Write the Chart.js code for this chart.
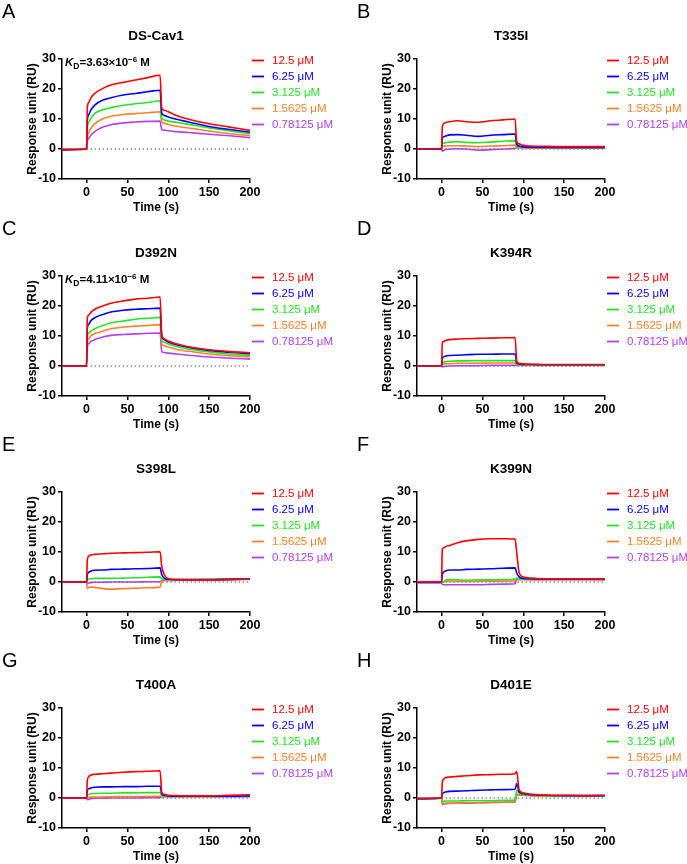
<!DOCTYPE html>
<html>
<head>
<meta charset="utf-8">
<script src="https://cdn.jsdelivr.net/npm/chart.js@4.4.1/dist/chart.umd.min.js"></script>
<style>
  body { margin: 0; background: #fff; width: 687px; height: 864px; overflow: hidden; position: relative; }
  canvas { position: absolute; }
</style>
</head>
<body>
<script>
// sampling times (s) shared by every sensorgram
const TIME = [-30, -1, 0, 1, 3, 5, 10, 20, 30, 45, 60, 75, 90, 92, 95, 100, 110, 125, 150, 175, 200];
const CONCENTRATIONS = ["12.5 μM", "6.25 μM", "3.125 μM", "1.5625 μM", "0.78125 μM"];
const X_TICKS = [0, 50, 100, 150, 200];
const Y_TICKS = [-10, 0, 10, 20, 30];
const ZERO_LINE_X = [0, 200];

const PANEL_LETTERS = ["A", "B", "C", "D", "E", "F", "G", "H"];
const PANEL_TITLES = ["DS-Cav1", "T335I", "D392N", "K394R", "S398L", "K399N", "T400A", "D401E"];
const KD_MANTISSA = ["3.63", null, "4.11", null, null, null, null, null];
const KD_EXPONENT = ["−6", null, "−6", null, null, null, null, null];

// response units, one row per concentration (12.5 -> 0.78125 uM)
const DS_CAV1 = [
  [-0.2, -0.1, 0, 14.0, 15.6, 16.9, 18.5, 20.2, 21.3, 22.2, 23.0, 23.8, 24.6, 13.7, 12.9, 12.4, 11.2, 9.9, 8.4, 7.3, 6.2],
  [-0.2, -0.1, 0, 9.5, 11.5, 12.9, 14.6, 16.3, 17.1, 18.0, 18.5, 19.1, 19.6, 12.0, 11.2, 10.7, 9.9, 9.0, 7.5, 6.5, 5.6],
  [-0.2, -0.1, 0, 7.0, 9.0, 10.1, 11.8, 13.1, 13.8, 14.6, 15.1, 15.5, 16.1, 10.3, 9.7, 9.3, 8.9, 8.2, 7.0, 6.0, 5.1],
  [-0.2, -0.1, 0, 4.0, 5.6, 6.7, 8.4, 10.1, 10.9, 11.5, 11.8, 12.1, 12.4, 9.0, 8.6, 8.2, 7.6, 7.0, 6.0, 5.1, 4.5],
  [-0.2, -0.1, 0, 2.6, 3.6, 4.5, 5.8, 7.3, 8.1, 8.7, 9.0, 9.2, 9.3, 6.4, 6.3, 6.1, 5.8, 5.5, 4.9, 4.4, 3.8]
];
const T335I = [
  [0, 0, 0, 7.4, 8.5, 8.8, 9.1, 9.4, 9.1, 8.9, 9.4, 9.7, 10.0, 2.4, 1.7, 1.2, 1.0, 0.9, 0.8, 0.8, 0.8],
  [0, 0, 0, 3.6, 4.1, 4.3, 4.7, 4.8, 4.6, 4.2, 4.6, 4.8, 5.0, 1.7, 1.0, 0.7, 0.6, 0.6, 0.5, 0.5, 0.5],
  [0, 0, 0, 1.7, 2.0, 2.1, 2.3, 2.4, 2.2, 2.1, 2.3, 2.6, 2.8, 1.0, 0.7, 0.6, 0.5, 0.5, 0.5, 0.5, 0.5],
  [0, 0, 0, 0.8, 0.9, 1.0, 1.1, 1.1, 1.0, 0.8, 1.0, 1.1, 1.3, 0.6, 0.5, 0.5, 0.5, 0.4, 0.4, 0.4, 0.4],
  [0, 0, 0, -0.7, -0.4, -0.2, 0.0, 0.1, 0.0, -0.4, -0.2, 0.0, 0.2, 0.4, 0.4, 0.4, 0.3, 0.3, 0.3, 0.3, 0.3]
];
const D392N = [
  [0, 0, 0, 16.0, 17.0, 17.8, 18.9, 20.0, 20.9, 21.7, 22.3, 22.6, 23.0, 10.5, 9.1, 8.3, 7.4, 6.4, 5.4, 4.8, 4.4],
  [0, 0, 0, 12.5, 14.0, 15.0, 16.1, 17.2, 18.0, 18.6, 18.9, 19.1, 19.3, 10.0, 8.8, 8.0, 7.1, 6.2, 5.2, 4.6, 4.1],
  [0, 0, 0, 9.8, 11.0, 11.6, 12.4, 13.5, 14.4, 15.0, 15.6, 15.9, 16.2, 8.6, 7.9, 7.3, 6.5, 5.6, 4.7, 4.0, 3.6],
  [0, 0, 0, 8.0, 9.2, 10.0, 10.8, 11.6, 12.4, 13.0, 13.3, 13.5, 13.8, 7.4, 6.8, 6.3, 5.6, 4.9, 4.0, 3.4, 3.1],
  [0, 0, 0, 6.5, 7.5, 8.1, 8.8, 9.7, 10.2, 10.5, 10.7, 10.9, 11.0, 4.8, 4.5, 4.3, 4.0, 3.6, 3.0, 2.6, 2.3]
];
const K394R = [
  [0, 0, 0, 7.7, 8.2, 8.5, 8.8, 9.0, 9.1, 9.2, 9.3, 9.4, 9.5, 1.7, 0.9, 0.7, 0.6, 0.5, 0.5, 0.5, 0.5],
  [0, 0, 0, 2.8, 3.1, 3.3, 3.5, 3.6, 3.75, 3.9, 3.9, 4.0, 4.0, 1.1, 0.7, 0.5, 0.5, 0.4, 0.4, 0.4, 0.4],
  [0, 0, 0, 1.1, 1.3, 1.5, 1.6, 1.7, 1.7, 1.8, 1.8, 1.8, 1.8, 0.6, 0.4, 0.4, 0.4, 0.3, 0.3, 0.3, 0.3],
  [0, 0, 0, 0.6, 0.7, 0.8, 0.8, 0.9, 0.9, 0.9, 1.0, 1.0, 1.0, 0.4, 0.3, 0.3, 0.3, 0.3, 0.3, 0.3, 0.3],
  [0, 0, 0, -0.3, -0.2, -0.1, 0.0, 0.1, 0.1, 0.1, 0.2, 0.2, 0.2, 0.2, 0.2, 0.2, 0.2, 0.2, 0.2, 0.2, 0.2]
];
const S398L = [
  [0, 0, 0, 7.5, 8.7, 9.0, 9.2, 9.4, 9.6, 9.7, 9.8, 9.9, 10.1, 5.3, 2.5, 1.1, 0.8, 0.7, 0.7, 0.8, 1.0],
  [0, 0, 0, 2.5, 3.3, 3.6, 3.9, 4.0, 4.2, 4.3, 4.4, 4.5, 4.7, 2.5, 1.3, 0.9, 0.8, 0.8, 0.8, 0.9, 1.0],
  [0, 0, 0, 0.6, 1.0, 1.1, 1.2, 1.2, 1.2, 1.3, 1.4, 1.6, 1.7, 1.0, 0.8, 0.8, 0.8, 0.8, 0.9, 1.0, 1.1],
  [0, 0, 0, -2.2, -1.8, -1.7, -1.8, -2.2, -2.4, -2.2, -2.1, -1.9, -1.7, 0.4, 0.6, 0.7, 0.7, 0.7, 0.7, 0.8, 0.9],
  [0, 0, 0, -0.6, -0.3, -0.2, -0.1, -0.1, 0.0, 0.0, 0.0, 0.1, 0.1, 0.4, 0.5, 0.5, 0.6, 0.6, 0.7, 0.8, 0.9]
];
const K399N = [
  [0.1, 0.1, 0.1, 10.9, 11.4, 11.8, 12.2, 13.1, 13.7, 14.2, 14.4, 14.4, 14.3, 9.8, 3.0, 1.7, 1.3, 1.1, 1.1, 1.1, 1.1],
  [0, 0, 0, 2.5, 3.4, 3.7, 4.0, 4.0, 4.2, 4.3, 4.4, 4.6, 4.7, 3.0, 1.7, 1.2, 1.1, 1.0, 1.0, 1.0, 1.0],
  [0, 0, 0, -0.3, 0.2, 0.6, 0.8, 0.7, 0.6, 0.7, 0.7, 0.8, 1.0, 1.3, 1.0, 0.9, 0.9, 0.9, 0.9, 0.9, 0.9],
  [0, 0, 0, -0.1, 0.1, 0.2, 0.2, 0.2, 0.2, 0.2, 0.3, 0.3, 0.4, 0.8, 0.8, 0.8, 0.8, 0.8, 0.8, 0.8, 0.8],
  [-0.3, -0.3, -0.3, -0.8, -0.9, -0.9, -0.9, -0.9, -0.9, -0.9, -0.8, -0.7, -0.6, 0.8, 0.9, 0.9, 0.8, 0.8, 0.8, 0.8, 0.8]
];
const T400A = [
  [0, 0, 0, 5.9, 7.2, 7.6, 7.9, 8.1, 8.3, 8.6, 8.8, 8.9, 9.1, 2.0, 1.2, 0.9, 0.8, 0.7, 0.7, 0.9, 1.1],
  [0, 0, 0, 2.6, 3.1, 3.3, 3.6, 3.7, 3.7, 3.8, 3.8, 3.9, 3.9, 1.4, 0.9, 0.7, 0.6, 0.6, 0.6, 0.6, 0.7],
  [0, 0, 0, 0.9, 1.2, 1.4, 1.5, 1.6, 1.6, 1.7, 1.7, 1.8, 1.8, 0.8, 0.6, 0.6, 0.5, 0.5, 0.5, 0.6, 0.6],
  [0, 0, 0, 0.1, 0.2, 0.3, 0.3, 0.4, 0.4, 0.5, 0.5, 0.5, 0.6, 0.5, 0.5, 0.5, 0.5, 0.5, 0.5, 0.6, 0.7],
  [0, 0, 0, -0.6, -0.4, -0.2, -0.1, -0.1, 0.0, 0.0, 0.0, 0.1, 0.1, 0.4, 0.4, 0.4, 0.4, 0.4, 0.4, 0.4, 0.4]
];
const D401E = [
  [-0.2, -0.1, 0, 5.3, 6.4, 6.8, 7.0, 7.2, 7.4, 7.7, 7.8, 7.9, 8.1, 8.8, 2.6, 1.7, 1.2, 1.0, 0.9, 0.8, 0.9],
  [-0.2, -0.1, 0, 1.4, 1.8, 2.0, 2.2, 2.3, 2.4, 2.6, 2.7, 2.8, 2.9, 4.8, 2.0, 1.4, 1.1, 0.9, 0.8, 0.8, 0.8],
  [-0.2, -0.1, 0, -1.3, -1.1, -1.0, -1.0, -1.0, -0.9, -0.9, -0.9, -0.8, -0.8, 2.6, 1.5, 1.1, 0.9, 0.8, 0.7, 0.7, 0.7],
  [-0.2, -0.1, 0, -1.9, -1.8, -1.7, -1.7, -1.7, -1.6, -1.6, -1.5, -1.4, -1.3, 1.0, 1.0, 0.9, 0.8, 0.7, 0.7, 0.7, 0.7],
  [-0.2, -0.1, 0, -2.2, -2.0, -1.9, -1.8, -1.7, -1.7, -1.6, -1.5, -1.4, -1.3, 1.2, 1.0, 0.9, 0.8, 0.7, 0.7, 0.7, 0.7]
];
const PANEL_DATA = [DS_CAV1, T335I, D392N, K394R, S398L, K399N, T400A, D401E];

const COLORS = ["#ff0000", "#0000ff", "#22e622", "#ff7f27", "#b040f0"];
const FONT = "'Liberation Sans', Arial, sans-serif";
const COL_LEFT = [0, 355];
const ROW_TOP = [0, 217, 433, 649];

// letter, title, K_D note and legend drawn on top
const decorations = {
  id: "decorations",
  afterDraw(chart, args, opts) {
    const ctx = chart.ctx;
    const area = chart.chartArea;
    ctx.save();
    ctx.fillStyle = "#000";
    ctx.textBaseline = "alphabetic";
    ctx.textAlign = "left";
    ctx.font = "20px " + FONT;
    ctx.fillText(opts.letter, 2, 17.5);

    ctx.textAlign = "center";
    ctx.font = "bold 13.5px " + FONT;
    ctx.fillText(opts.title, (area.left + area.right) / 2, 40);

    if (opts.kd) {
      ctx.textAlign = "left";
      let x = 65;
      const base = 66;
      const part = (text, font, dy) => {
        ctx.font = font;
        ctx.fillText(text, x, base + dy);
        x += ctx.measureText(text).width;
      };
      part("K", "italic bold 11.5px " + FONT, 0);
      part("D", "bold 8.5px " + FONT, 3);
      part("=" + opts.kd + "×10", "bold 11.5px " + FONT, 0);
      part(opts.exp, "bold 8px " + FONT, -4.5);
      part(" M", "bold 11.5px " + FONT, 0);
    }

    ctx.textAlign = "left";
    ctx.textBaseline = "middle";
    ctx.font = "11.5px " + FONT;
    chart.data.datasets.forEach((ds, i) => {
      if (!ds.inLegend) return;
      const y = 60.5 + 16 * i;
      ctx.strokeStyle = ds.borderColor;
      ctx.lineWidth = 1.8;
      ctx.beginPath();
      ctx.moveTo(252, y);
      ctx.lineTo(264, y);
      ctx.stroke();
      ctx.fillStyle = ds.borderColor;
      ctx.fillText(ds.label, 272, y + 0.5);
    });
    ctx.restore();
  }
};

function makePanel(p) {
  const canvas = document.createElement("canvas");
  canvas.width = 340;
  canvas.height = 216;
  canvas.style.left = COL_LEFT[p % 2] + "px";
  canvas.style.top = ROW_TOP[Math.floor(p / 2)] + "px";
  document.body.appendChild(canvas);

  const datasets = PANEL_DATA[p].map((vals, i) => ({
    label: CONCENTRATIONS[i],
    inLegend: true,
    data: TIME.map((t, j) => ({ x: t, y: vals[j] })),
    borderColor: COLORS[i],
    borderWidth: 1.6,
    pointRadius: 0,
    cubicInterpolationMode: "monotone",
    fill: false,
    order: 0
  }));
  datasets.push({
    label: "baseline",
    inLegend: false,
    data: ZERO_LINE_X.map(x => ({ x: x, y: 0 })),
    borderColor: "#555",
    borderDash: [1.5, 2.5],
    borderWidth: 1.2,
    pointRadius: 0,
    fill: false,
    order: 1
  });

  const axisGrid = { display: true, drawOnChartArea: false, drawTicks: true, tickLength: 4, color: "#000", lineWidth: 1.5 };
  const axisBorder = { display: true, color: "#000", width: 1.5 };

  new Chart(canvas, {
    type: "line",
    data: { datasets: datasets },
    options: {
      responsive: false,
      animation: false,
      devicePixelRatio: 1,
      layout: { padding: { top: 59, right: 90, bottom: 0, left: 0 } },
      plugins: {
        legend: { display: false },
        tooltip: { enabled: false },
        decorations: {
          letter: PANEL_LETTERS[p],
          title: PANEL_TITLES[p],
          kd: KD_MANTISSA[p],
          exp: KD_EXPONENT[p]
        }
      },
      scales: {
        x: {
          type: "linear",
          min: -30,
          max: 200,
          afterBuildTicks: s => { s.ticks = X_TICKS.map(v => ({ value: v })); },
          afterFit: s => { s.height = 37; },
          grid: axisGrid,
          border: axisBorder,
          ticks: { color: "#000", font: { family: FONT, size: 12.5, weight: "bold" }, padding: 2, maxRotation: 0 },
          title: { display: true, text: "Time (s)", color: "#000", font: { family: FONT, size: 12, weight: "bold" }, padding: { top: 0, bottom: 1 } }
        },
        y: {
          type: "linear",
          min: -10,
          max: 30,
          afterBuildTicks: s => { s.ticks = Y_TICKS.map(v => ({ value: v })); },
          afterFit: s => { s.width = 62; },
          grid: axisGrid,
          border: axisBorder,
          ticks: { color: "#000", font: { family: FONT, size: 12.5, weight: "bold" }, padding: 2 },
          title: { display: true, text: "Response unit (RU)", color: "#000", font: { family: FONT, size: 12, weight: "bold" }, padding: { top: 25, bottom: 0 } }
        }
      }
    },
    plugins: [decorations]
  });
}

for (let p = 0; p < PANEL_TITLES.length; p++) makePanel(p);
</script>
</body>
</html>
